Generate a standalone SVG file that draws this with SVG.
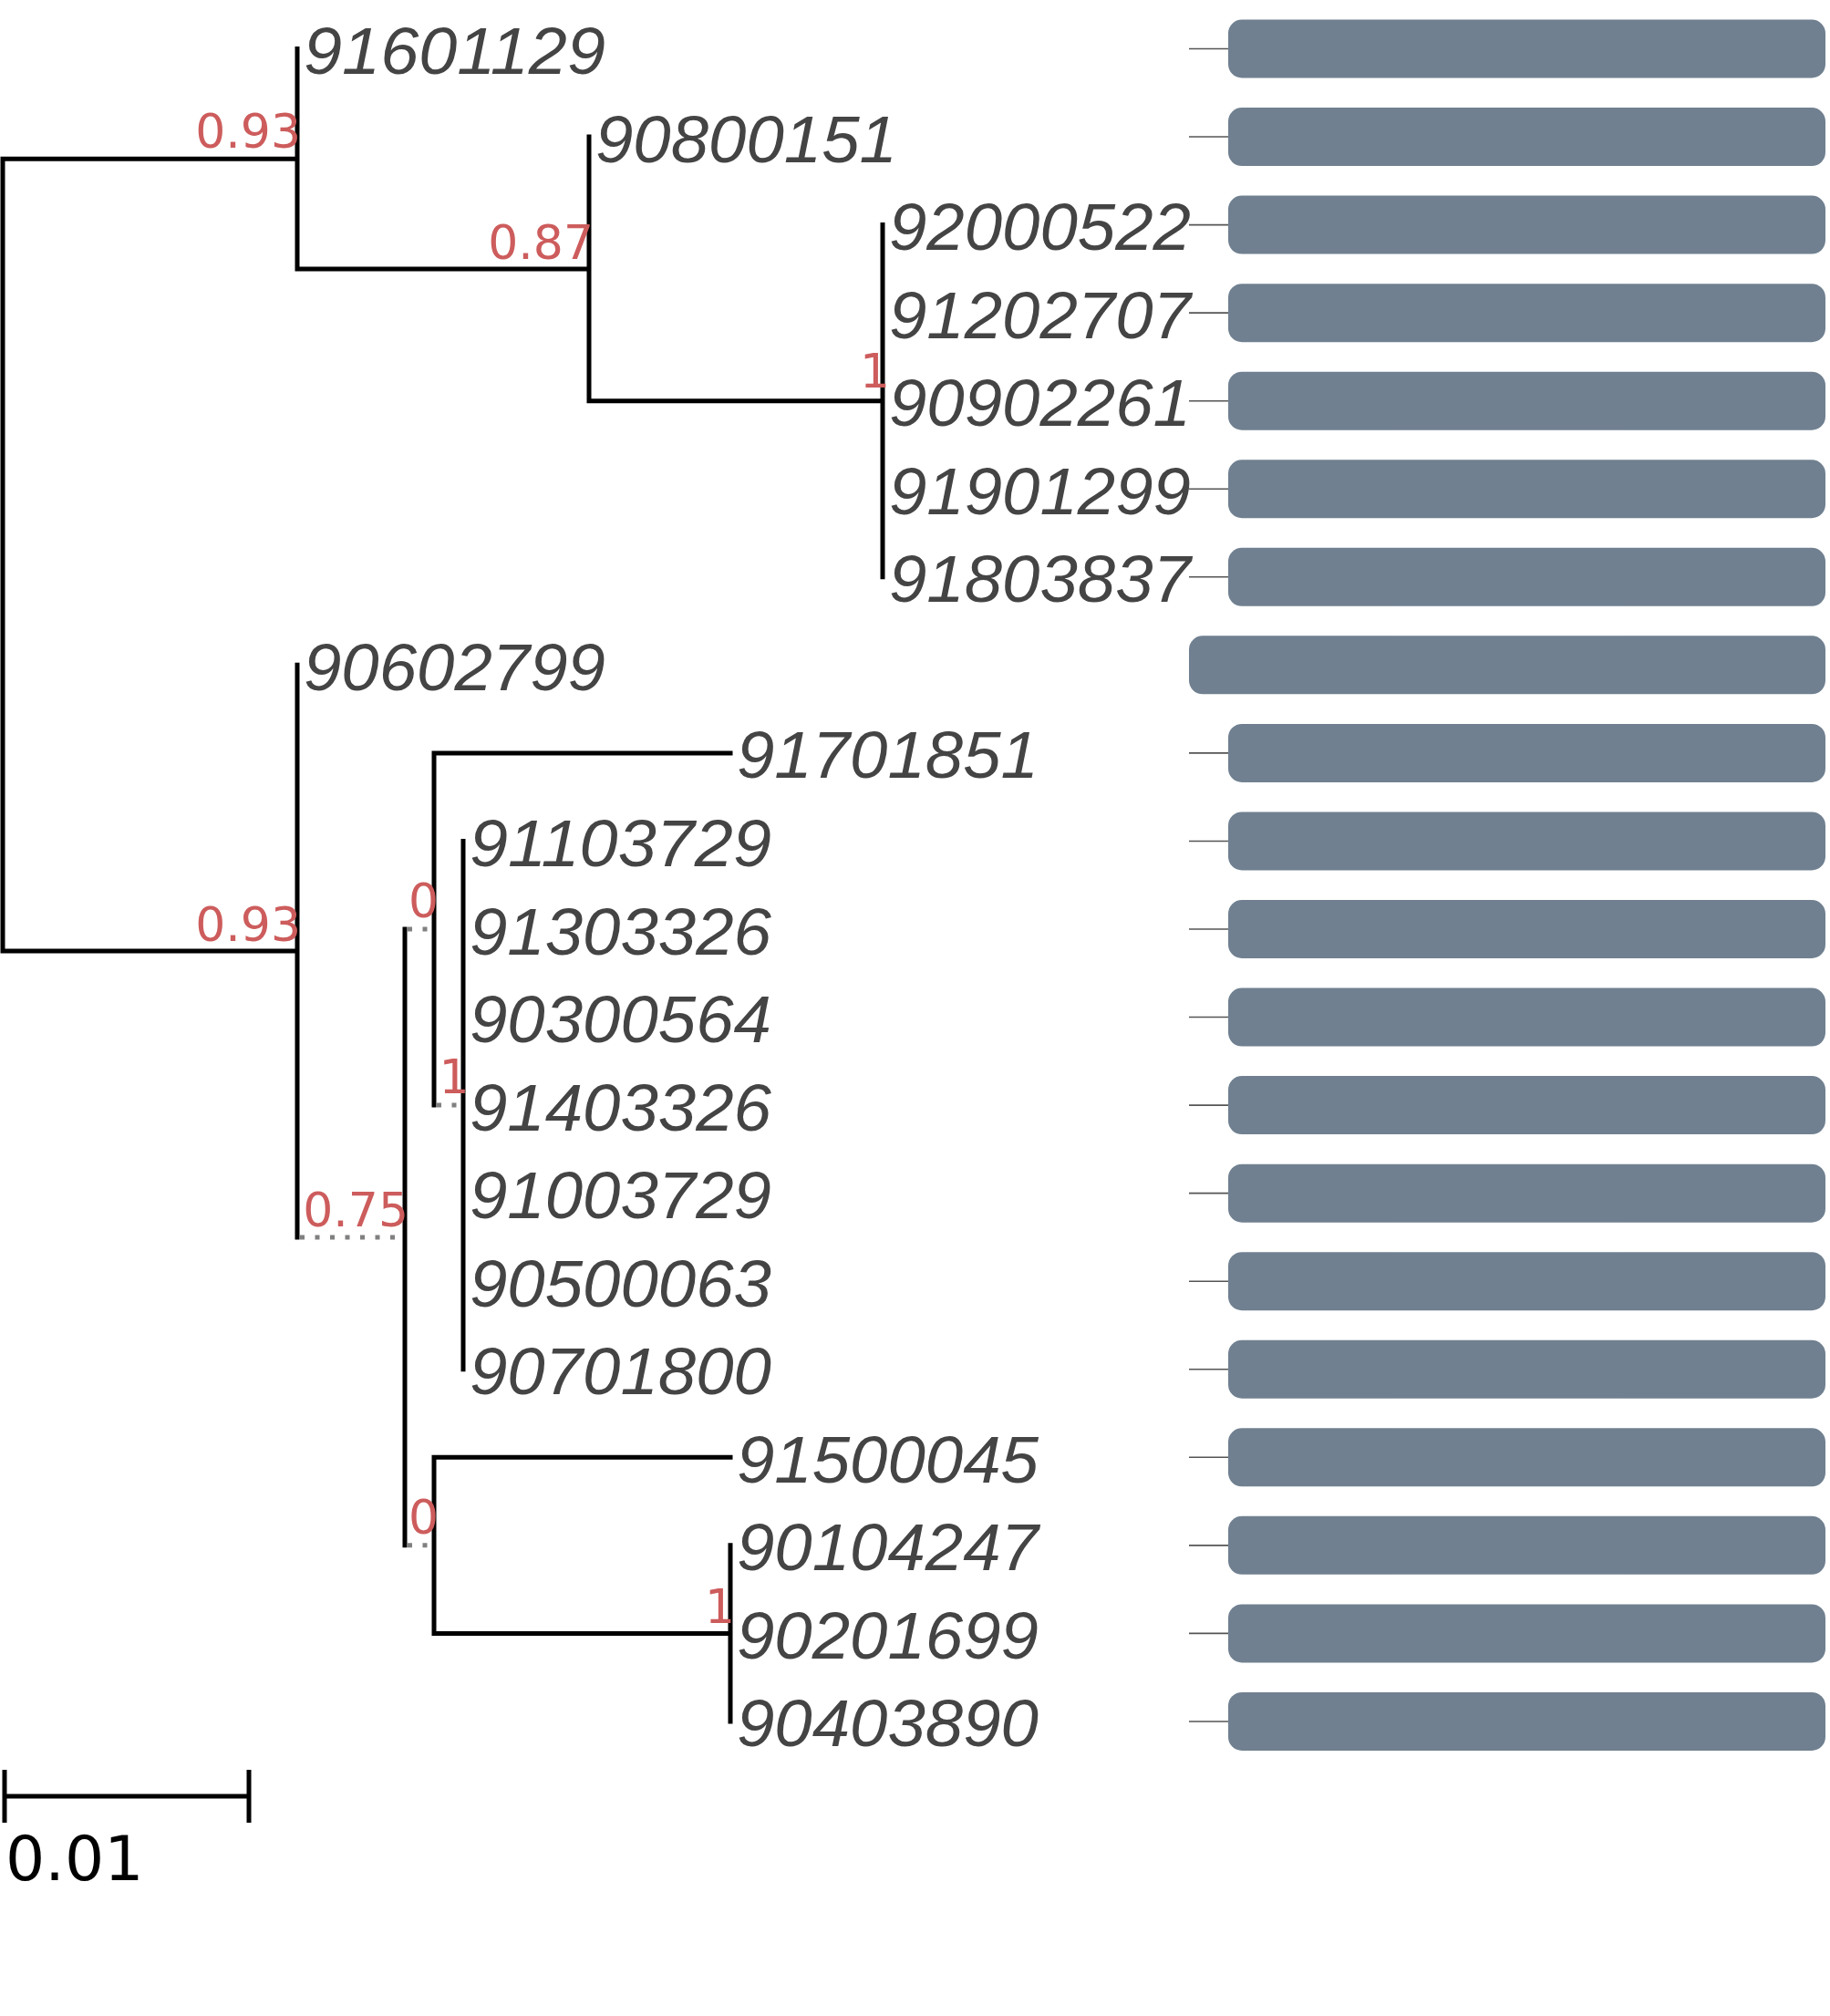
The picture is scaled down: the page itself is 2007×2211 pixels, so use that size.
<svg xmlns="http://www.w3.org/2000/svg" width="2007" height="2211" viewBox="0 0 2007 2211">
<style>
.br{stroke:#000;stroke-width:5;fill:none;stroke-linecap:square}
.dt{stroke:#808080;stroke-width:5;fill:none;stroke-dasharray:5 11.5}
.lf{font-family:"Liberation Sans",Arial,sans-serif;font-style:italic;font-size:73px;fill:#444}
.sp{font-family:"DejaVu Sans",sans-serif;font-size:52px;fill:#cd5c5c;text-anchor:end}
.cn{stroke:#555;stroke-width:1.6}
.bx{fill:#708090}
.sc{font-family:"DejaVu Sans",sans-serif;font-size:68px;fill:#000}
</style>
<rect width="2007" height="2211" fill="#fff"/>
<g id="connectors">
<path class="br" d="M3,174.2V1043.1M3,174.2H326M3,1043.1H326M326,53.5V294.9M326,294.9H646M646,150.05V439.7M646,439.7H968M968,246.6V632.8M326,729.35V1356.9M444,1019V1694.85M476,825.9V1212.1M476,825.9H801M508,922.45V1501.75M476,1598.3V1791.4M476,1598.3H801M476,1791.4H801M801,1694.85V1887.95"/>
<path class="dt" d="M329,1356.9H441M447,1019H473M447,1694.85H473M479,1212.1H505"/>
<text class="sp" x="330" y="162">0.93</text>
<text class="sp" x="651" y="284">0.87</text>
<text class="sp" x="976" y="425">1</text>
<text class="sp" x="330" y="1031.5">0.93</text>
<text class="sp" x="448" y="1345">0.75</text>
<text class="sp" x="481" y="1006">0</text>
<text class="sp" x="514.5" y="1199">1</text>
<text class="sp" x="481" y="1682">0</text>
<text class="sp" x="806" y="1780">1</text>
</g>
<g id="leaf-91601129"><text class="lf" x="333" y="81" textLength="331" lengthAdjust="spacingAndGlyphs">91601129</text><line class="cn" x1="1304" y1="53.5" x2="1348" y2="53.5"/><rect class="bx" x="1347" y="21.5" width="655" height="64" rx="15"/></g>
<g id="leaf-90800151"><text class="lf" x="653" y="177.55" textLength="331" lengthAdjust="spacingAndGlyphs">90800151</text><line class="cn" x1="1304" y1="150.05" x2="1348" y2="150.05"/><rect class="bx" x="1347" y="118.05" width="655" height="64" rx="15"/></g>
<g id="leaf-92000522"><text class="lf" x="975" y="274.1" textLength="331" lengthAdjust="spacingAndGlyphs">92000522</text><line class="cn" x1="1304" y1="246.6" x2="1348" y2="246.6"/><rect class="bx" x="1347" y="214.6" width="655" height="64" rx="15"/></g>
<g id="leaf-91202707"><text class="lf" x="975" y="370.65" textLength="331" lengthAdjust="spacingAndGlyphs">91202707</text><line class="cn" x1="1304" y1="343.15" x2="1348" y2="343.15"/><rect class="bx" x="1347" y="311.15" width="655" height="64" rx="15"/></g>
<g id="leaf-90902261"><text class="lf" x="975" y="467.2" textLength="331" lengthAdjust="spacingAndGlyphs">90902261</text><line class="cn" x1="1304" y1="439.7" x2="1348" y2="439.7"/><rect class="bx" x="1347" y="407.7" width="655" height="64" rx="15"/></g>
<g id="leaf-91901299"><text class="lf" x="975" y="563.75" textLength="331" lengthAdjust="spacingAndGlyphs">91901299</text><line class="cn" x1="1304" y1="536.25" x2="1348" y2="536.25"/><rect class="bx" x="1347" y="504.25" width="655" height="64" rx="15"/></g>
<g id="leaf-91803837"><text class="lf" x="975" y="660.3" textLength="331" lengthAdjust="spacingAndGlyphs">91803837</text><line class="cn" x1="1304" y1="632.8" x2="1348" y2="632.8"/><rect class="bx" x="1347" y="600.8" width="655" height="64" rx="15"/></g>
<g id="leaf-90602799"><text class="lf" x="333" y="756.85" textLength="331" lengthAdjust="spacingAndGlyphs">90602799</text><rect class="bx" x="1304" y="697.35" width="698" height="64" rx="15"/></g>
<g id="leaf-91701851"><text class="lf" x="808" y="853.4" textLength="331" lengthAdjust="spacingAndGlyphs">91701851</text><line class="cn" x1="1304" y1="825.9" x2="1348" y2="825.9"/><rect class="bx" x="1347" y="793.9" width="655" height="64" rx="15"/></g>
<g id="leaf-91103729"><text class="lf" x="515" y="949.95" textLength="331" lengthAdjust="spacingAndGlyphs">91103729</text><line class="cn" x1="1304" y1="922.45" x2="1348" y2="922.45"/><rect class="bx" x="1347" y="890.45" width="655" height="64" rx="15"/></g>
<g id="leaf-91303326"><text class="lf" x="515" y="1046.5" textLength="331" lengthAdjust="spacingAndGlyphs">91303326</text><line class="cn" x1="1304" y1="1019" x2="1348" y2="1019"/><rect class="bx" x="1347" y="987" width="655" height="64" rx="15"/></g>
<g id="leaf-90300564"><text class="lf" x="515" y="1143.05" textLength="331" lengthAdjust="spacingAndGlyphs">90300564</text><line class="cn" x1="1304" y1="1115.55" x2="1348" y2="1115.55"/><rect class="bx" x="1347" y="1083.55" width="655" height="64" rx="15"/></g>
<g id="leaf-91403326"><text class="lf" x="515" y="1239.6" textLength="331" lengthAdjust="spacingAndGlyphs">91403326</text><line class="cn" x1="1304" y1="1212.1" x2="1348" y2="1212.1"/><rect class="bx" x="1347" y="1180.1" width="655" height="64" rx="15"/></g>
<g id="leaf-91003729"><text class="lf" x="515" y="1336.15" textLength="331" lengthAdjust="spacingAndGlyphs">91003729</text><line class="cn" x1="1304" y1="1308.65" x2="1348" y2="1308.65"/><rect class="bx" x="1347" y="1276.65" width="655" height="64" rx="15"/></g>
<g id="leaf-90500063"><text class="lf" x="515" y="1432.7" textLength="331" lengthAdjust="spacingAndGlyphs">90500063</text><line class="cn" x1="1304" y1="1405.2" x2="1348" y2="1405.2"/><rect class="bx" x="1347" y="1373.2" width="655" height="64" rx="15"/></g>
<g id="leaf-90701800"><text class="lf" x="515" y="1529.25" textLength="331" lengthAdjust="spacingAndGlyphs">90701800</text><line class="cn" x1="1304" y1="1501.75" x2="1348" y2="1501.75"/><rect class="bx" x="1347" y="1469.75" width="655" height="64" rx="15"/></g>
<g id="leaf-91500045"><text class="lf" x="808" y="1625.8" textLength="331" lengthAdjust="spacingAndGlyphs">91500045</text><line class="cn" x1="1304" y1="1598.3" x2="1348" y2="1598.3"/><rect class="bx" x="1347" y="1566.3" width="655" height="64" rx="15"/></g>
<g id="leaf-90104247"><text class="lf" x="808" y="1722.35" textLength="331" lengthAdjust="spacingAndGlyphs">90104247</text><line class="cn" x1="1304" y1="1694.85" x2="1348" y2="1694.85"/><rect class="bx" x="1347" y="1662.85" width="655" height="64" rx="15"/></g>
<g id="leaf-90201699"><text class="lf" x="808" y="1818.9" textLength="331" lengthAdjust="spacingAndGlyphs">90201699</text><line class="cn" x1="1304" y1="1791.4" x2="1348" y2="1791.4"/><rect class="bx" x="1347" y="1759.4" width="655" height="64" rx="15"/></g>
<g id="leaf-90403890"><text class="lf" x="808" y="1915.45" textLength="331" lengthAdjust="spacingAndGlyphs">90403890</text><line class="cn" x1="1304" y1="1887.95" x2="1348" y2="1887.95"/><rect class="bx" x="1347" y="1855.95" width="655" height="64" rx="15"/></g>
<g id="scale">
<path class="br" d="M5,1970H273M5,1941V1999M273,1941V1999" style="stroke-linecap:butt"/>
<text class="sc" x="6" y="2062">0.01</text>
</g>
</svg>
